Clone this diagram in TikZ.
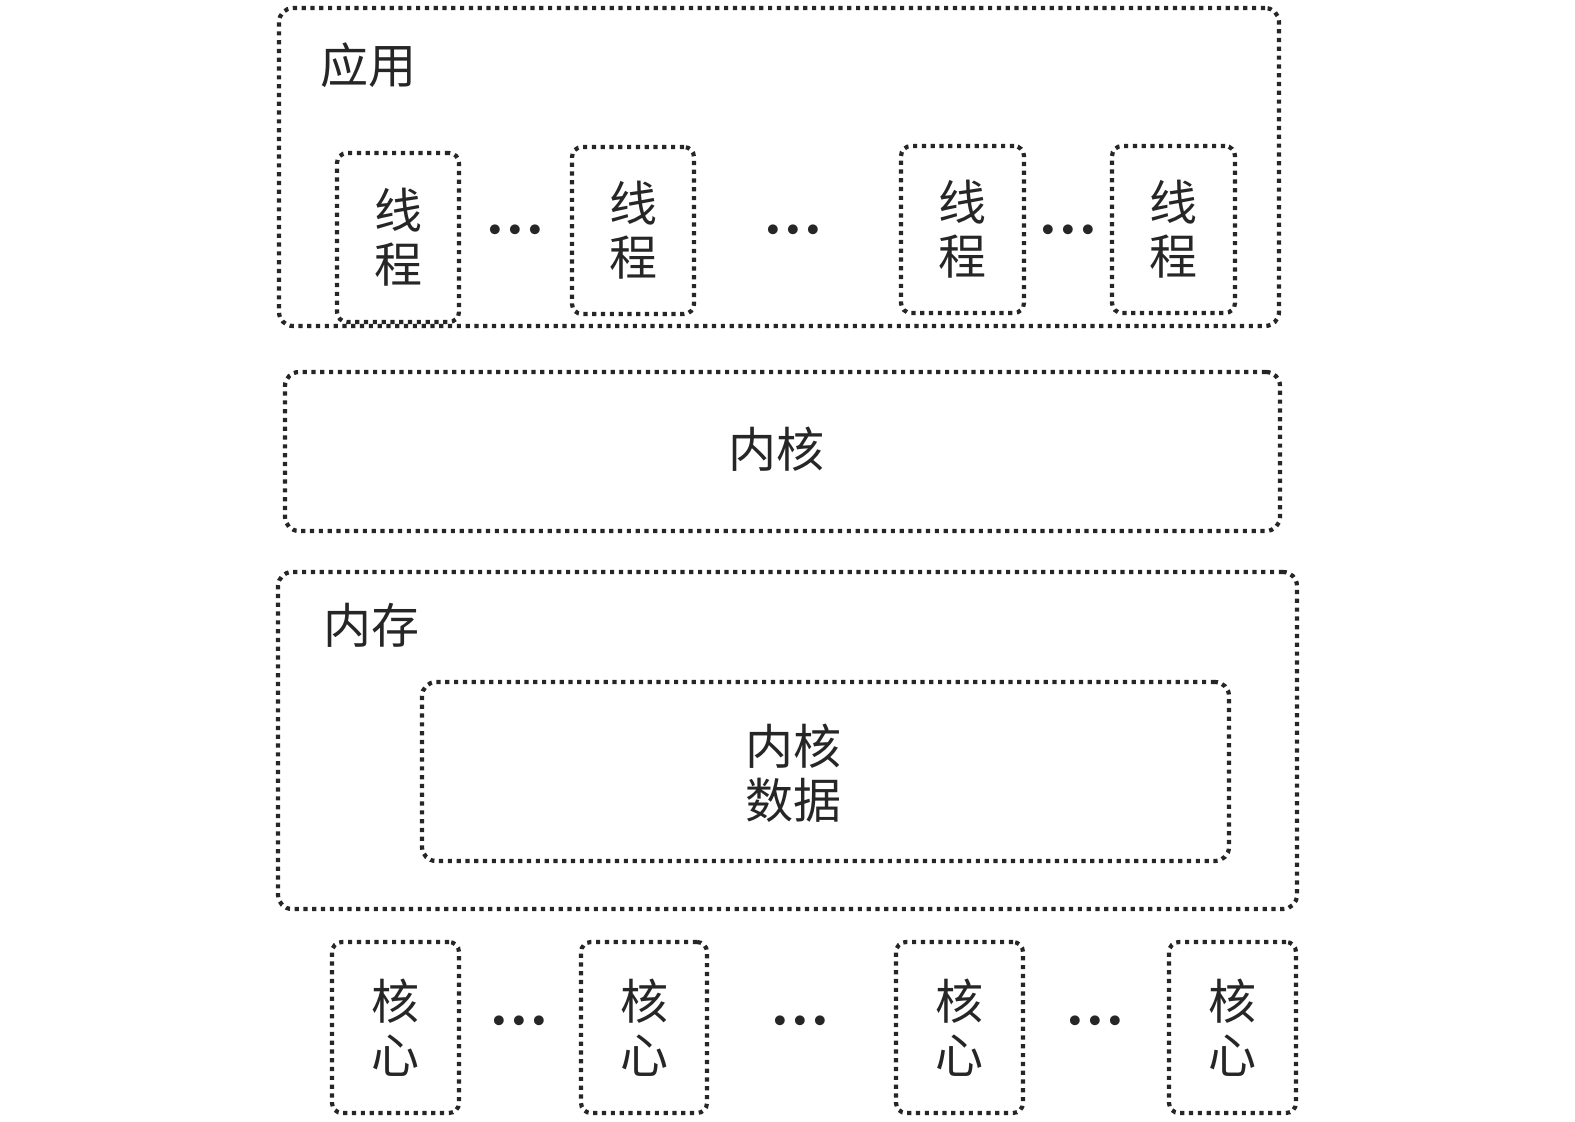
\documentclass[tikz,border=0pt]{standalone}
\usepackage{fontspec}
\newfontfamily\cjk{Noto Sans CJK SC}
\newcommand\tdots{\textbullet\kern-5.8pt\textbullet\kern-5.8pt\textbullet}
\begin{document}
\begin{tikzpicture}[x=0.5pt,y=-0.5pt,
  dbox/.style={draw=black!85, line width=2.1pt, dash pattern=on 2.1pt off 2.3pt, rounded corners=#1, inner sep=0pt},
  dbox/.default=7pt,
  lbl/.style={font=\cjk\fontsize{24}{27}\selectfont, text=black!85, inner sep=0pt, align=center},
  dotsn/.style={font=\fontsize{22}{22}\selectfont, text=black!85, inner sep=0pt}]
\useasboundingbox (0,0) rectangle (1575,1122);
\fill[white] (0,0) rectangle (1575,1122);
% application
\node[dbox, minimum width=500pt, minimum height=159pt] (app) at (779,167) {};
\node[lbl] (applbl) at (368,65) {应用};
\node[dbox=5pt, lbl, minimum width=61pt, minimum height=84.5pt] (t1) at (398,237.5) {线\\程};
\node[dbox=5pt, lbl, minimum width=61pt, minimum height=83.5pt] (t2) at (633,230.5) {线\\程};
\node[dbox=5pt, lbl, minimum width=61.5pt, minimum height=83.5pt] (t3) at (962.5,229.5) {线\\程};
\node[dbox=5pt, lbl, minimum width=61.5pt, minimum height=83.5pt] (t4) at (1173.5,229.5) {线\\程};
\node[dotsn] (td1) at (515,233) {\tdots};
\node[dotsn] (td2) at (793,233) {\tdots};
\node[dotsn] (td3) at (1068,233) {\tdots};
% kernel
\node[dbox, lbl, minimum width=497.5pt, minimum height=79.5pt] (kern) at (782.5,451.5) {};
\node[lbl] (kernlbl) at (776,449) {内核};
% memory
\node[dbox, minimum width=509.5pt, minimum height=168.5pt] (mem) at (787.5,740.5) {};
\node[lbl] (memlbl) at (371,625) {内存};
\node[dbox, minimum width=403.5pt, minimum height=89.5pt] (kd) at (825.5,771.5) {};
\node[lbl] (kdlbl) at (793,773) {内核\\数据};
% cores
\node[dbox=5pt, lbl, minimum width=63.5pt, minimum height=85.5pt] (c1) at (395.5,1027.5) {核\\心};
\node[dbox=5pt, lbl, minimum width=63pt, minimum height=85.5pt] (c2) at (644,1027.5) {核\\心};
\node[dbox=5pt, lbl, minimum width=63.5pt, minimum height=85.5pt] (c3) at (959.5,1027.5) {核\\心};
\node[dbox=5pt, lbl, minimum width=63.5pt, minimum height=85.5pt] (c4) at (1232.5,1027.5) {核\\心};
\node[dotsn] (cd1) at (519,1024) {\tdots};
\node[dotsn] (cd2) at (800,1024) {\tdots};
\node[dotsn] (cd3) at (1095,1024) {\tdots};
\end{tikzpicture}
\end{document}
